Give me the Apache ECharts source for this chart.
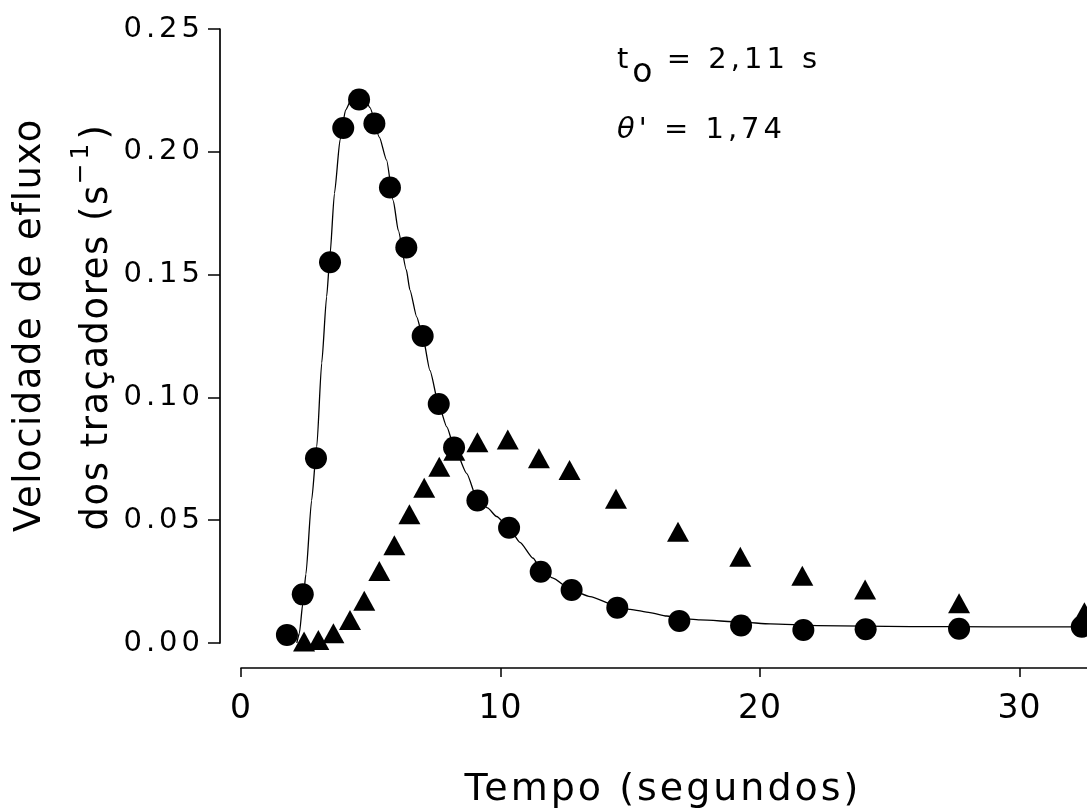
<!DOCTYPE html>
<html>
<head>
<meta charset="utf-8">
<script src="https://cdn.jsdelivr.net/npm/echarts@6/dist/echarts.min.js"></script>
<style>
  html, body { margin: 0; padding: 0; background: #fff; }
  #chart { width: 1087px; height: 811px; }
</style>
</head>
<body>
<div id="chart"></div>
<script>
// Efflux rate of the two tracers (s^-1) against time (s)
const circleTimes = [1.77, 2.38, 2.89, 3.43, 3.94, 4.55, 5.14, 5.74, 6.37, 7.00, 7.62, 8.21, 9.11,
  10.33, 11.55, 12.74, 14.50, 16.89, 19.27, 21.67, 24.07, 27.67, 32.40];
const circleRates = [0.0033, 0.0198, 0.0752, 0.1550, 0.2097, 0.2213, 0.2115, 0.1855, 0.1610, 0.1250,
  0.0973, 0.0796, 0.0580, 0.0469, 0.0290, 0.0216, 0.0144, 0.0090, 0.0071, 0.0053, 0.0056, 0.0058, 0.0066];

const triangleTimes = [2.43, 2.98, 3.56, 4.20, 4.75, 5.33, 5.91, 6.49, 7.06, 7.64, 8.22, 9.11, 10.28,
  11.48, 12.66, 14.45, 16.84, 19.24, 21.63, 24.05, 27.67, 32.50];
const triangleRates = [0.0006, 0.0012, 0.0040, 0.0094, 0.0172, 0.0293, 0.0398, 0.0524, 0.0632, 0.0718,
  0.0783, 0.0817, 0.0829, 0.0752, 0.0704, 0.0587, 0.0453, 0.0351, 0.0274, 0.0218, 0.0162, 0.0125];

// fitted curve traced through the circle series
const fitTimes = [2.15, 2.25, 2.38, 2.50, 2.72, 2.92, 3.11, 3.30, 3.43, 3.60, 3.82, 4.03, 4.30, 4.55,
  4.80, 4.97, 5.33, 5.61, 5.87, 6.06, 6.37, 6.51, 6.77, 7.00, 7.28, 7.62, 7.93, 8.21, 8.70, 9.10,
  9.50, 9.85, 10.33, 10.75, 11.26, 11.55, 12.00, 12.74, 13.45, 14.50, 15.00, 15.76, 16.40, 16.89,
  17.69, 19.27, 20.40, 22.20, 25.80, 29.00, 34.00];
const fitRates = [0.0000, 0.0040, 0.0160, 0.0280, 0.0580, 0.0800, 0.1140, 0.1410, 0.1580, 0.1830,
  0.2050, 0.2170, 0.2225, 0.2230, 0.2210, 0.2180, 0.2060, 0.1966, 0.1800, 0.1680, 0.1520, 0.1437,
  0.1328, 0.1250, 0.1110, 0.0970, 0.0880, 0.0800, 0.0690, 0.0585, 0.0550, 0.0515, 0.0469, 0.0410,
  0.0345, 0.0300, 0.0265, 0.0215, 0.0189, 0.0150, 0.0137, 0.0124, 0.0110, 0.0100, 0.0094, 0.0085,
  0.0078, 0.0071, 0.0067, 0.0066, 0.0066];

const xTickValues = [0, 10, 20, 30];
const yTickValues = [0, 0.05, 0.10, 0.15, 0.20, 0.25];

const xTitle = 'Tempo (segundos)';
const yTitleTop = 'Velocidade de efluxo';
const yTitleBottom = 'dos traçadores (s';
const yTitleExponent = '−1';
const fitLabel1 = ['t', 'o', ' = 2,11 s'];
const fitLabel2 = ['θ', '\'', ' = 1,74'];

// Wide tracking of the typeface, set on the canvas per font size.
const TRACKING = [[30, '4px'], [35, '1px'], [37.5, '1.5px'], [Infinity, '3px']];
function trackingFor(font) {
  const m = /(\d+(?:\.\d+)?)px/.exec(font || '');
  const size = m ? parseFloat(m[1]) : 12;
  for (const [limit, value] of TRACKING) { if (size < limit) return value; }
  return '0px';
}
['fillText', 'strokeText', 'measureText'].forEach(function (name) {
  const original = CanvasRenderingContext2D.prototype[name];
  CanvasRenderingContext2D.prototype[name] = function () {
    if ('letterSpacing' in this) this.letterSpacing = trackingFor(this.font);
    return original.apply(this, arguments);
  };
});

const FONT = 'DejaVu Sans';
const INK = '#000';

const chart = echarts.init(document.getElementById('chart'), null, { renderer: 'canvas' });

const zip = (xs, ys) => xs.map((x, i) => [x, ys[i]]);

chart.setOption({
  backgroundColor: '#fff',
  animation: false,
  grid: { left: 241, top: 29, bottom: 168, right: 0 },
  xAxis: {
    type: 'value',
    min: 0,
    max: 32.6,
    interval: 10,
    offset: 25,
    splitLine: { show: false },
    axisLine: { show: true, onZero: false, lineStyle: { color: INK, width: 1.7 } },
    axisTick: { show: true, length: 9, customValues: xTickValues, lineStyle: { color: INK, width: 1.5 } },
    axisLabel: {
      color: INK, fontFamily: FONT, fontSize: 33, margin: 24,
      customValues: xTickValues,
      formatter: v => (xTickValues.indexOf(v) >= 0 ? String(v) : '')
    }
  },
  yAxis: {
    type: 'value',
    min: 0,
    max: 0.25,
    interval: 0.05,
    offset: 21,
    splitLine: { show: false },
    axisLine: { show: true, onZero: false, lineStyle: { color: INK, width: 1.7 } },
    axisTick: { show: true, length: 12, lineStyle: { color: INK, width: 1.5 } },
    axisLabel: {
      color: INK, fontFamily: FONT, fontSize: 29, margin: 16,
      formatter: v => {
        const t = yTickValues.find(k => Math.abs(k - v) < 1e-9);
        return t === undefined ? '' : t.toFixed(2);
      }
    }
  },
  series: [
    {
      type: 'line',
      data: zip(fitTimes, fitRates),
      showSymbol: false,
      smooth: 0.2,
      smoothMonotone: 'x',
      lineStyle: { color: INK, width: 1.3 },
      z: 1
    },
    {
      type: 'scatter',
      data: zip(triangleTimes, triangleRates),
      symbol: 'triangle',
      symbolSize: [22, 20],
      clip: false,
      itemStyle: { color: INK, opacity: 1 },
      z: 2
    },
    {
      type: 'scatter',
      data: zip(circleTimes, circleRates),
      symbol: 'circle',
      symbolSize: 22,
      clip: false,
      itemStyle: { color: INK, opacity: 1 },
      z: 3
    }
  ],
  graphic: [
    {
      type: 'text',
      x: 663, y: 790,
      style: {
        text: xTitle, fill: INK, font: '38px "' + FONT + '"',
        textAlign: 'center', textVerticalAlign: 'middle'
      }
    },
    {
      type: 'text',
      x: 30, y: 325,
      rotation: Math.PI / 2,
      style: {
        text: yTitleTop, fill: INK, font: '37px "' + FONT + '"',
        textAlign: 'center', textVerticalAlign: 'middle'
      }
    },
    {
      type: 'text',
      x: 97, y: 327,
      rotation: Math.PI / 2,
      style: {
        text: '{b|' + yTitleBottom + '}{sup|' + yTitleExponent + '}{b|)}',
        textAlign: 'center', textVerticalAlign: 'middle',
        rich: {
          b: { fill: INK, fontFamily: FONT, fontSize: 37, lineHeight: 44 },
          sup: { fill: INK, fontFamily: FONT, fontSize: 25, lineHeight: 44, padding: [0, 0, 31, 0] }
        }
      }
    },
    {
      type: 'text',
      x: 617, y: 60,
      style: {
        text: '{b|' + fitLabel1[0] + '}{sub|' + fitLabel1[1] + '}{b|' + fitLabel1[2] + '}',
        textAlign: 'left', textVerticalAlign: 'middle',
        rich: {
          b: { fill: INK, fontFamily: FONT, fontSize: 29, lineHeight: 36 },
          sub: { fill: INK, fontFamily: FONT, fontSize: 33, lineHeight: 36, padding: [27, 0, 0, 0] }
        }
      }
    },
    {
      type: 'text',
      x: 617, y: 130,
      style: {
        text: '{th|' + fitLabel2[0] + '}{b|' + fitLabel2[1] + fitLabel2[2] + '}',
        textAlign: 'left', textVerticalAlign: 'middle',
        rich: {
          th: { fill: INK, fontFamily: FONT, fontStyle: 'italic', fontSize: 29, lineHeight: 36 },
          b: { fill: INK, fontFamily: FONT, fontSize: 29, lineHeight: 36 }
        }
      }
    }
  ]
});
</script>
</body>
</html>
